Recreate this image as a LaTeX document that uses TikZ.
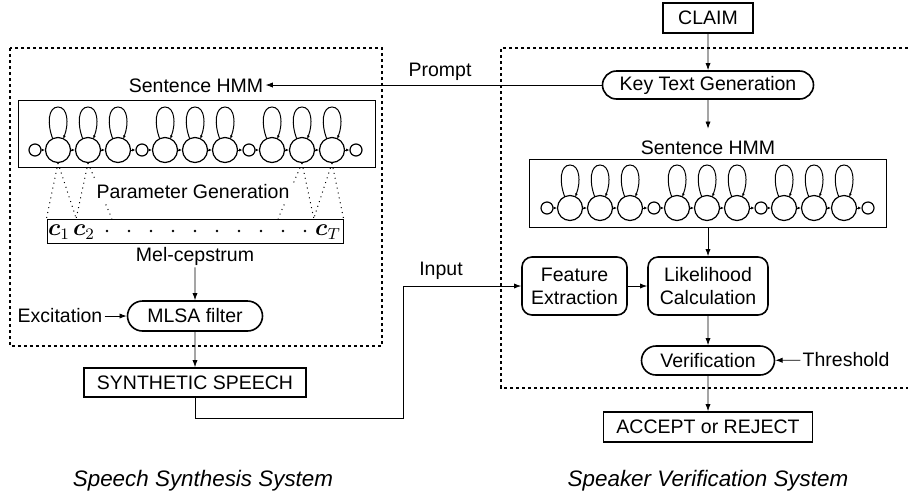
\documentclass[tikz,border=0pt]{standalone}
\usepackage{fontspec}
\setmainfont{Liberation Sans}
\usepackage{amsmath}
\usetikzlibrary{arrows.meta,shapes.misc,calc}
\tikzset{>={Latex[length=3.6pt,width=2.6pt]}}
\tikzset{
  block/.style = {draw, line width=0.8pt, inner sep=0pt},
  pill/.style = {block, rounded rectangle},
  rblock/.style = {block, rounded corners=5pt, align=center},
  lbl/.style = {inner sep=1pt},
  vec/.style = {inner sep=0pt, font=\fontsize{11.5pt}{12pt}\selectfont},
  sysbox/.style = {line width=0.7pt, dash pattern=on 1.6pt off 1.4pt},
  hmmbox/.style = {draw, line width=0.5pt, minimum width=178.5pt, minimum height=33.5pt},
  bigstate/.style = {draw, circle, line width=0.6pt, minimum size=12.5pt, inner sep=0pt},
  smallstate/.style = {draw, circle, line width=0.6pt, minimum size=6pt, inner sep=0pt},
  link/.style = {line width=0.5pt, -{Latex[length=1.6pt,width=1.4pt]}},
  gen/.style = {line width=0.5pt, dotted}
}
% left-to-right HMM chain, #1 name prefix, #2/#3 shift
\newcommand{\hmmchain}[3]{%
  \foreach \x/\kind [count=\i] in {35/smallstate,58/bigstate,88/bigstate,118/bigstate,
      142/smallstate,165/bigstate,195/bigstate,225/bigstate,
      249/smallstate,272/bigstate,302/bigstate,332/bigstate,356/smallstate}
    \node[\kind] (#1\i) at (\x+#2,150+#3) {};
  \foreach \i [remember=\i as \j (initially 1)] in {2,...,13}
    \draw[link] (#1\j) -- (#1\i);
  % self loops
  \foreach \i in {2,3,4,6,7,8,10,11,12}
    \draw[link, shift={(#1\i.center)}] (-2.64pt,5.66pt)
      .. controls (-5.5pt,13pt) and (-5pt,21.5pt) .. (0pt,21.5pt)
      .. controls (5pt,21.5pt) and (5.5pt,13pt) .. (2.64pt,5.66pt);
}

\begin{document}
\begin{tikzpicture}[x=0.5pt,y=-0.5pt,font=\fontsize{9.75pt}{11.5pt}\selectfont]
  \useasboundingbox (0,0) rectangle (908,499);

  % system frames
  \draw[sysbox] (10,48) rectangle (382,346);
  \draw[sysbox] (908,48) -| (501,388) -- (908,388);

  % speech synthesis side
  \node[lbl] (hmmLlbl) at (196,86) {Sentence HMM};
  \node[hmmbox] (hmmL) at (196.5,134) {};
  \hmmchain{L}{0}{0}
  \node[draw, line width=0.5pt, minimum width=148pt, minimum height=12pt, inner sep=0pt] (mel) at (195,231) {};
  \node[vec] (c1) at (59,232) {$\boldsymbol{c}_1$};
  \node[vec] (c2) at (84,232) {$\boldsymbol{c}_2$};
  \node[vec] (cT) at (328,232) {$\boldsymbol{c}_T$};
  \foreach \k in {0,...,9}
    \fill (107+22*\k,231) circle[radius=0.7pt];
  \coordinate (t1) at ($(mel.north west)!0.1!(mel.north east)$);
  \coordinate (t2) at ($(mel.north west)!0.22!(mel.north east)$);
  \coordinate (t3) at ($(mel.north west)!0.78!(mel.north east)$);
  \coordinate (t4) at ($(mel.north west)!0.9!(mel.north east)$);
  \draw[gen] (L2.south) -- (mel.north west);
  \draw[gen] (L2.south) -- (t1);
  \draw[gen] (L3.south) -- (t1);
  \draw[gen] (L3.south) -- (t2);
  \draw[gen] (L11.south) -- (t3);
  \draw[gen] (L11.south) -- (t4);
  \draw[gen] (L12.south) -- (t4);
  \draw[gen] (L12.south) -- (mel.north east);
  \node[lbl, fill=white, inner sep=2pt] (pgen) at (193,192) {Parameter Generation};
  \node[lbl] (mellbl) at (195,256) {Mel-cepstrum};
  \node[pill, minimum width=67.5pt, minimum height=15pt] (mlsa) at (195,316) {MLSA filter};
  \node[lbl] (exc) at (60,316) {Excitation};
  \node[block, minimum width=111pt, minimum height=14.5pt] (synth) at (195,382.5) {SYNTHETIC SPEECH};
  \draw[->] (mellbl) -- (mlsa);
  \draw[->] (exc) -- (mlsa);
  \draw[->] (mlsa) -- (synth);

  % speaker verification side
  \node[block, minimum width=45pt, minimum height=15pt] (claim) at (708,18) {CLAIM};
  \node[pill, minimum width=105.5pt, minimum height=14pt] (keytext) at (708,85) {Key Text Generation};
  \node[lbl] (hmmRlbl) at (708,148) {Sentence HMM};
  \node[hmmbox, minimum height=34pt] (hmmR) at (708,193) {};
  \hmmchain{R}{512}{58}
  \node[rblock, minimum width=52.5pt, minimum height=29pt] (feat) at (574.5,286) {Feature\\Extraction};
  \node[rblock, minimum width=60pt, minimum height=29pt] (lik) at (708,286) {Likelihood\\Calculation};
  \node[pill, minimum width=66.5pt, minimum height=14.5pt] (verif) at (708,360.5) {Verification};
  \node[lbl] (thr) at (846,360) {Threshold};
  \node[block, minimum width=104.5pt, minimum height=15pt] (accept) at (708,427) {ACCEPT or REJECT};
  \draw[->] (claim) -- (keytext);
  \draw[->, shorten >=5pt] (keytext) -- (hmmRlbl);
  \draw[->] (hmmR) -- (lik);
  \draw[->] (feat) -- (lik);
  \draw[->] (lik) -- (verif);
  \draw[->] (thr) -- (verif);
  \draw[->] (verif) -- (accept);

  % links between the systems
  \draw[->] (keytext.west) -- (keytext.west -| hmmLlbl.east);
  \node[lbl] (prompt) at (440,72) {Prompt};
  \coordinate (inbend) at (403,418);
  \draw[->] (synth) |- (inbend) |- (feat);
  \node[lbl] (input) at (441,271) {Input};

  % captions
  \node[font=\fontsize{11.2pt}{13pt}\selectfont\itshape] (capL) at (203,481) {Speech Synthesis System};
  \node[font=\fontsize{11.2pt}{13pt}\selectfont\itshape] (capR) at (708,481) {Speaker Verification System};
\end{tikzpicture}
\end{document}
